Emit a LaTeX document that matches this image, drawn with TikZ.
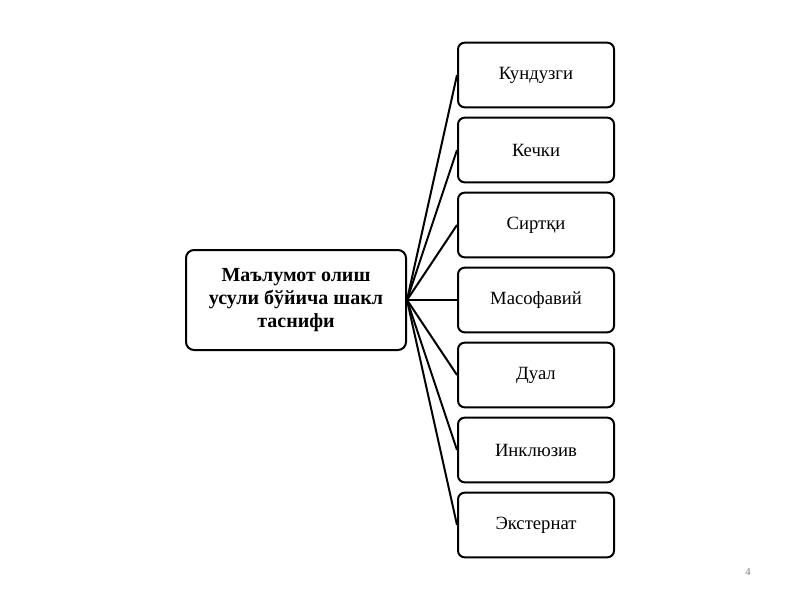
\documentclass[tikz,border=0pt]{standalone}
\usepackage{fontspec}
\setmainfont{Liberation Serif}
\begin{document}
\tikzset{every picture/.style={line width=0.75pt}}
\tikzset{
  catbox/.style={draw, line width=1.5pt, rounded corners=5pt, minimum width=117pt, minimum height=48.5pt, inner sep=0pt, font=\fontsize{14}{16}\selectfont},
  rootbox/.style={draw, line width=1.5pt, rounded corners=6pt, minimum width=165pt, minimum height=75pt, align=center, font=\fontsize{15}{17}\selectfont\bfseries},
  link/.style={line width=1.5pt}
}
\begin{tikzpicture}[x=0.75pt,y=0.75pt,yscale=-1,xscale=1]
    \useasboundingbox (0,0) rectangle (800,600);
    
    % Root
    \node [rootbox] (root) at (296,300) {Маълумот олиш\\усули бўйича шакл\\таснифи};
    
    % Categories
    \foreach \name/\label [count=\i] in {kun/Кундузги, kech/Кечки, sirt/Сиртқи, mas/Масофавий, dual/Дуал, inkl/Инклюзив, ext/Экстернат}{
      \node [catbox] (\name) at (536,{75*\i}) {\label};
      \draw [link] (root.east) -- (\name.west);
    }
    
    % Page number
    \node [anchor=center, text=gray, font=\fontsize{8}{9}\selectfont] (page) at (748,572) {4};
\end{tikzpicture}
\end{document}
